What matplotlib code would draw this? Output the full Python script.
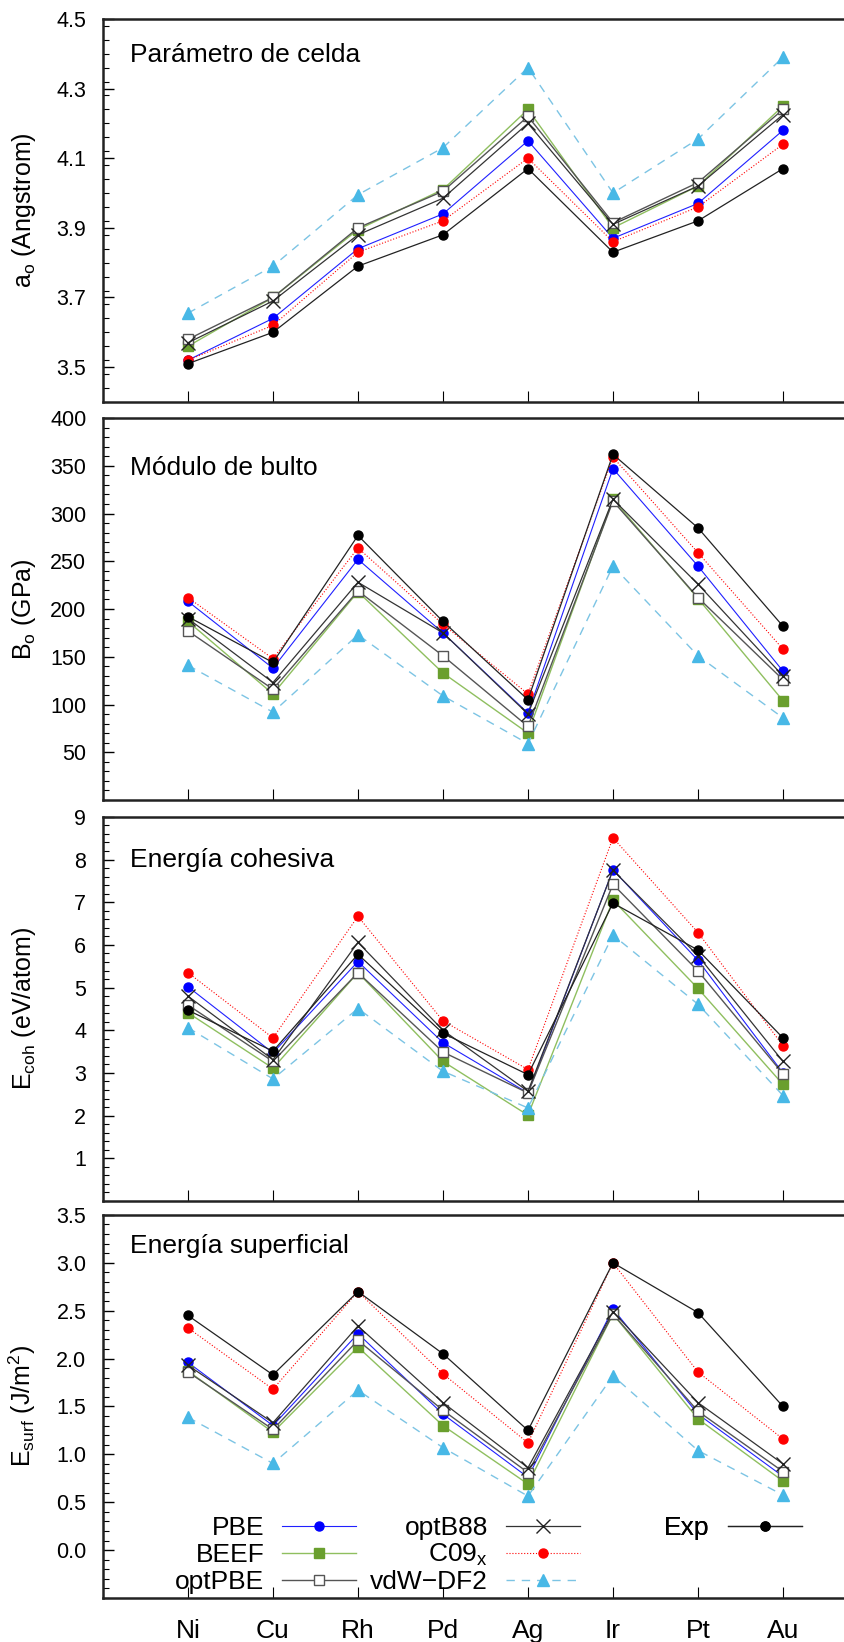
import numpy as np
import matplotlib
matplotlib.use('Agg')
import matplotlib.pyplot as plt

plt.rcParams['font.family'] = ['Liberation Sans', 'DejaVu Sans']
plt.rcParams['mathtext.fontset'] = 'custom'
plt.rcParams['mathtext.rm'] = 'Liberation Sans'
plt.rcParams['mathtext.it'] = 'Liberation Sans:italic'

metals = ['Ni', 'Cu', 'Rh', 'Pd', 'Ag', 'Ir', 'Pt', 'Au']

# lattice parameter (Angstrom)
a_pbe    = [3.52, 3.64, 3.84, 3.94, 4.15, 3.87, 3.97, 4.18]
a_beef   = [3.56, 3.70, 3.895, 4.01, 4.24, 3.90, 4.02, 4.25]
a_optpbe = [3.58, 3.70, 3.90, 4.005, 4.22, 3.915, 4.03, 4.24]
a_optb88 = [3.57, 3.69, 3.88, 3.985, 4.20, 3.91, 4.02, 4.225]
a_c09    = [3.52, 3.62, 3.83, 3.92, 4.10, 3.86, 3.96, 4.14]
a_vdw2   = [3.655, 3.79, 3.995, 4.13, 4.36, 4.00, 4.155, 4.39]
a_exp    = [3.51, 3.60, 3.79, 3.88, 4.07, 3.83, 3.92, 4.07]

# bulk modulus (GPa)
b_pbe    = [208, 138, 252, 175, 91, 347, 245, 135]
b_beef   = [187, 111, 218, 133, 70, 315, 211, 104]
b_optpbe = [177, 116, 219, 151, 77, 313, 212, 126]
b_optb88 = [190, 123, 228, 175, 90, 315, 226, 130]
b_c09    = [212, 148, 264, 184, 111, 359, 259, 158]
b_vdw2   = [141, 92, 173, 109, 59, 245, 151, 86]
b_exp    = [192, 144, 277, 187, 105, 362, 285, 182]

# cohesive energy (eV/atom)
e_pbe    = [5.02, 3.47, 5.61, 3.71, 2.53, 7.76, 5.64, 3.00]
e_beef   = [4.41, 3.11, 5.35, 3.27, 2.01, 7.05, 4.98, 2.73]
e_optpbe = [4.59, 3.27, 5.35, 3.49, 2.53, 7.42, 5.39, 2.98]
e_optb88 = [4.80, 3.31, 6.06, 4.00, 2.57, 7.75, 5.75, 3.27]
e_c09    = [5.35, 3.82, 6.67, 4.22, 3.08, 8.51, 6.29, 3.64]
e_vdw2   = [4.06, 2.86, 4.51, 3.04, 2.18, 6.23, 4.61, 2.47]
e_exp    = [4.47, 3.51, 5.78, 3.93, 2.96, 6.98, 5.88, 3.82]

# surface energy (J/m2)
s_pbe    = [1.96, 1.30, 2.26, 1.42, 0.76, 2.52, 1.42, 0.77]
s_beef   = [1.87, 1.23, 2.12, 1.30, 0.69, 2.465, 1.37, 0.72]
s_optpbe = [1.86, 1.26, 2.19, 1.46, 0.81, 2.465, 1.45, 0.82]
s_optb88 = [1.93, 1.33, 2.34, 1.54, 0.86, 2.49, 1.54, 0.90]
s_c09    = [2.32, 1.68, 2.70, 1.84, 1.12, 3.00, 1.86, 1.16]
s_vdw2   = [1.386, 0.905, 1.67, 1.07, 0.564, 1.82, 1.04, 0.575]
s_exp    = [2.45, 1.83, 2.70, 2.05, 1.25, 3.00, 2.48, 1.50]

x = np.arange(1, len(metals)+1)

styles = [
    ('PBE',      dict(color='#2020ff', lw=0.8, ls='-', marker='o', ms=6.5, mfc='#0000ff', mec='#0000ff')),
    ('BEEF',     dict(color='#8fbf5f', lw=1.0, ls='-', marker='s', ms=6.5, mfc='#6a9f2e', mec='#6a9f2e')),
    ('optPBE',   dict(color='#555555', lw=1.0, ls='-', marker='s', ms=7, mfc='white', mec='#555555', mew=1.0)),
    ('optB88',   dict(color='#333333', lw=0.9, ls='-', marker='x', ms=10, mec='#222222', mew=1.0)),
    ('C09$_{\\rm x}$', dict(color='#ff0000', lw=0.8, ls=':', marker='o', ms=6.5, mfc='#ff0000', mec='#ff0000')),
    ('vdW\u2212DF2', dict(color='#7cc4e4', lw=1.0, ls=(0, (6, 5)), marker='^', ms=8.5, mfc='#48b8e6', mec='#48b8e6')),
    ('Exp',      dict(color='#222222', lw=0.9, ls='-', marker='o', ms=6.5, mfc='black', mec='black')),
]

panels = [
    ([a_pbe, a_beef, a_optpbe, a_optb88, a_c09, a_vdw2, a_exp], 'Par\u00e1metro de celda',
     'a$_{\\rm o}$ (Angstrom)', (3.4, 4.5), np.arange(3.5, 4.51, 0.2), 0.04, '%.1f', 0.905),
    ([b_pbe, b_beef, b_optpbe, b_optb88, b_c09, b_vdw2, b_exp], 'M\u00f3dulo de bulto',
     'B$_{\\rm o}$ (GPa)', (0, 400), np.arange(50, 401, 50), 10, '%d', 0.869),
    ([e_pbe, e_beef, e_optpbe, e_optb88, e_c09, e_vdw2, e_exp], 'Energ\u00eda cohesiva',
     'E$_{\\rm coh}$ (eV/atom)', (0, 9), np.arange(1, 9.1, 1), 0.2, '%d', 0.888),
    ([s_pbe, s_beef, s_optpbe, s_optb88, s_c09, s_vdw2, s_exp], 'Energ\u00eda superficial',
     'E$_{\\rm surf}$ (J/m$^2$)', (-0.5, 3.5), np.arange(0, 3.51, 0.5), 0.1, '%.1f', 0.919),
]

# legend slots (right end of sample line, row centre) in data units of the last panel
leg_pos = [(2.98, 0.282), (2.98, 0.0), (2.98, -0.282),
           (5.61, 0.282), (5.61, 0.0), (5.61, -0.282),
           (8.22, 0.282)]

fig = plt.figure(figsize=(8.44, 16.42), dpi=100)
rects = [(0.1220, 0.7552, 0.9064, 0.2333),
         (0.1220, 0.5128, 0.9064, 0.2326),
         (0.1220, 0.2686, 0.9064, 0.2339),
         (0.1220, 0.0268, 0.9064, 0.2333)]

for k, (series, title, ylab, ylim, yt, minor, fmt, ty) in enumerate(panels):
    ax = fig.add_axes(rects[k])
    lines = []
    for (lab, st), y in zip(styles, series):
        l, = ax.plot(x, y, label=lab, **st)
        lines.append(l)
    ax.set_xlim(0, 9)
    ax.set_ylim(*ylim)
    ax.set_yticks(yt)
    ax.set_yticklabels([fmt % v for v in yt])
    ax.set_yticks(np.arange(ylim[0], ylim[1]+1e-9, minor), minor=True)
    ax.set_xticks(x)
    if k == 3:
        ax.set_xticklabels(metals, fontsize=19)
    else:
        ax.set_xticklabels([])
    ax.tick_params(axis='y', which='major', direction='in', length=8, width=1,
                   labelsize=15.5, right=True, pad=12)
    ax.tick_params(axis='y', which='minor', direction='in', length=4, width=0.8, right=True)
    ax.tick_params(axis='x', which='major', direction='in', length=8, width=0.8, pad=15)
    for sp in ax.spines.values():
        sp.set_linewidth(1.8)
        sp.set_color('#222222')
    ax.set_ylabel(ylab, fontsize=18)
    ax.yaxis.set_label_coords(-0.085, 0.5)
    ax.text(0.035, ty, title, transform=ax.transAxes, fontsize=19, va='center', ha='left')

    if k == 3:
        for i, (xr, yr) in enumerate(leg_pos):
            leg = ax.legend([lines[i]], [styles[i][0]],
                            loc='center right', bbox_to_anchor=(xr, yr - 0.055),
                            bbox_transform=ax.transData, frameon=False,
                            markerfirst=False, fontsize=19, handlelength=2.8,
                            handletextpad=0.68, borderpad=0, borderaxespad=0)
            ax.add_artist(leg)

plt.savefig('out.png', dpi=100)
plt.close()
